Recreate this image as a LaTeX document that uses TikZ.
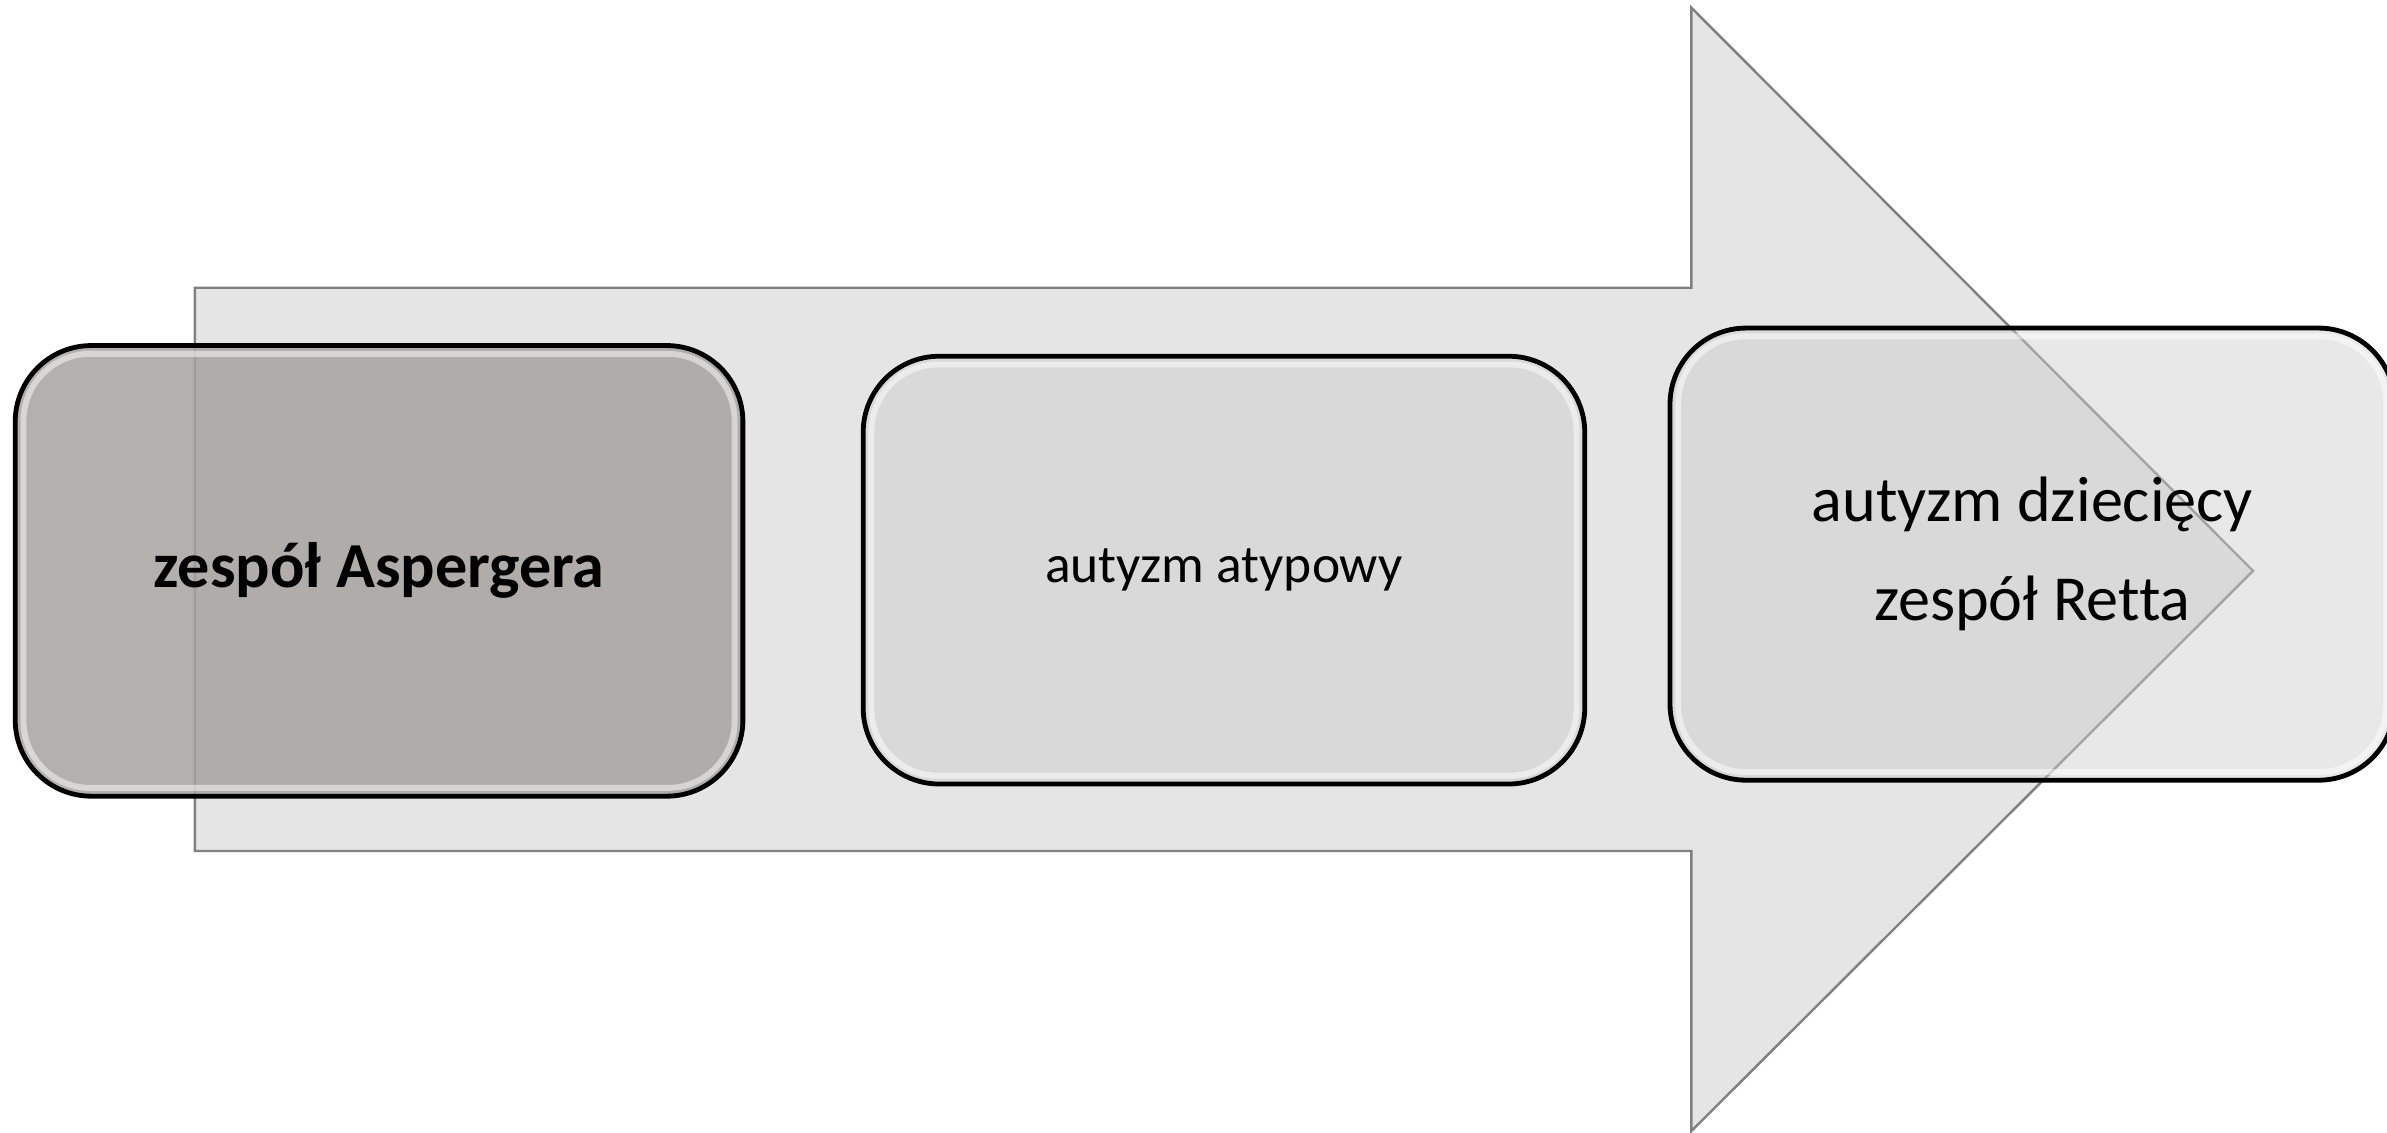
\documentclass[tikz,border=0pt]{standalone}
\usepackage{fontspec}
\setmainfont[Ligatures={NoCommon}]{Carlito}
\usepackage{xcolor}
\usepackage{tikz}
\usetikzlibrary{shapes,positioning}

\definecolor{arrowgray}{RGB}{229,229,229}
\definecolor{arrowline}{RGB}{128,128,128}
\definecolor{darkbox}{RGB}{166,163,160}
\definecolor{lightbox}{RGB}{205,205,205}

\tikzset{
	stage/.style={draw=black,line width=0.9pt,rounded corners=0.5cm,inner sep=0pt,
		minimum width=4.76cm,align=center,text opacity=1},
	gloss/.style={white,line width=1.1pt,opacity=0.5,rounded corners=0.44cm}
}

\begin{document}
\begin{tikzpicture}
		\useasboundingbox (0,0) rectangle (15.68,7.44);
		\clip (0,0) rectangle (15.68,7.44);
		% big arrow in the background
		\draw[fill=arrowgray,draw=arrowline,line width=0.45pt]
		(1.28,1.85) -- (1.28,5.55) -- (11.11,5.55) -- (11.11,7.39)
		-- (14.80,3.69) -- (11.11,0.01) -- (11.11,1.85) -- cycle;
		%
		\node[stage,fill=darkbox,fill opacity=0.85,minimum width=4.78cm,minimum height=2.96cm,
			font=\fontsize{12}{14}\selectfont\bfseries] (asp) at (2.49,3.69) {zespół Aspergera};
		\node[stage,fill=lightbox,fill opacity=0.46,minimum width=4.74cm,minimum height=2.81cm,
			font=\fontsize{10}{12}\selectfont] (aty) at (8.04,3.695) {autyzm atypowy};
		\node[stage,fill=lightbox,fill opacity=0.46,minimum width=4.76cm,minimum height=2.97cm,
			font=\fontsize{12}{18.5}\selectfont] (dzi) at (13.35,3.80) {autyzm dziecięcy\\ zespół Retta};
		%
		\foreach \b in {asp,aty,dzi}
			\draw[gloss] ([shift={(0.07,-0.07)}]\b.north west) rectangle ([shift={(-0.07,0.07)}]\b.south east);
\end{tikzpicture}
\end{document}
